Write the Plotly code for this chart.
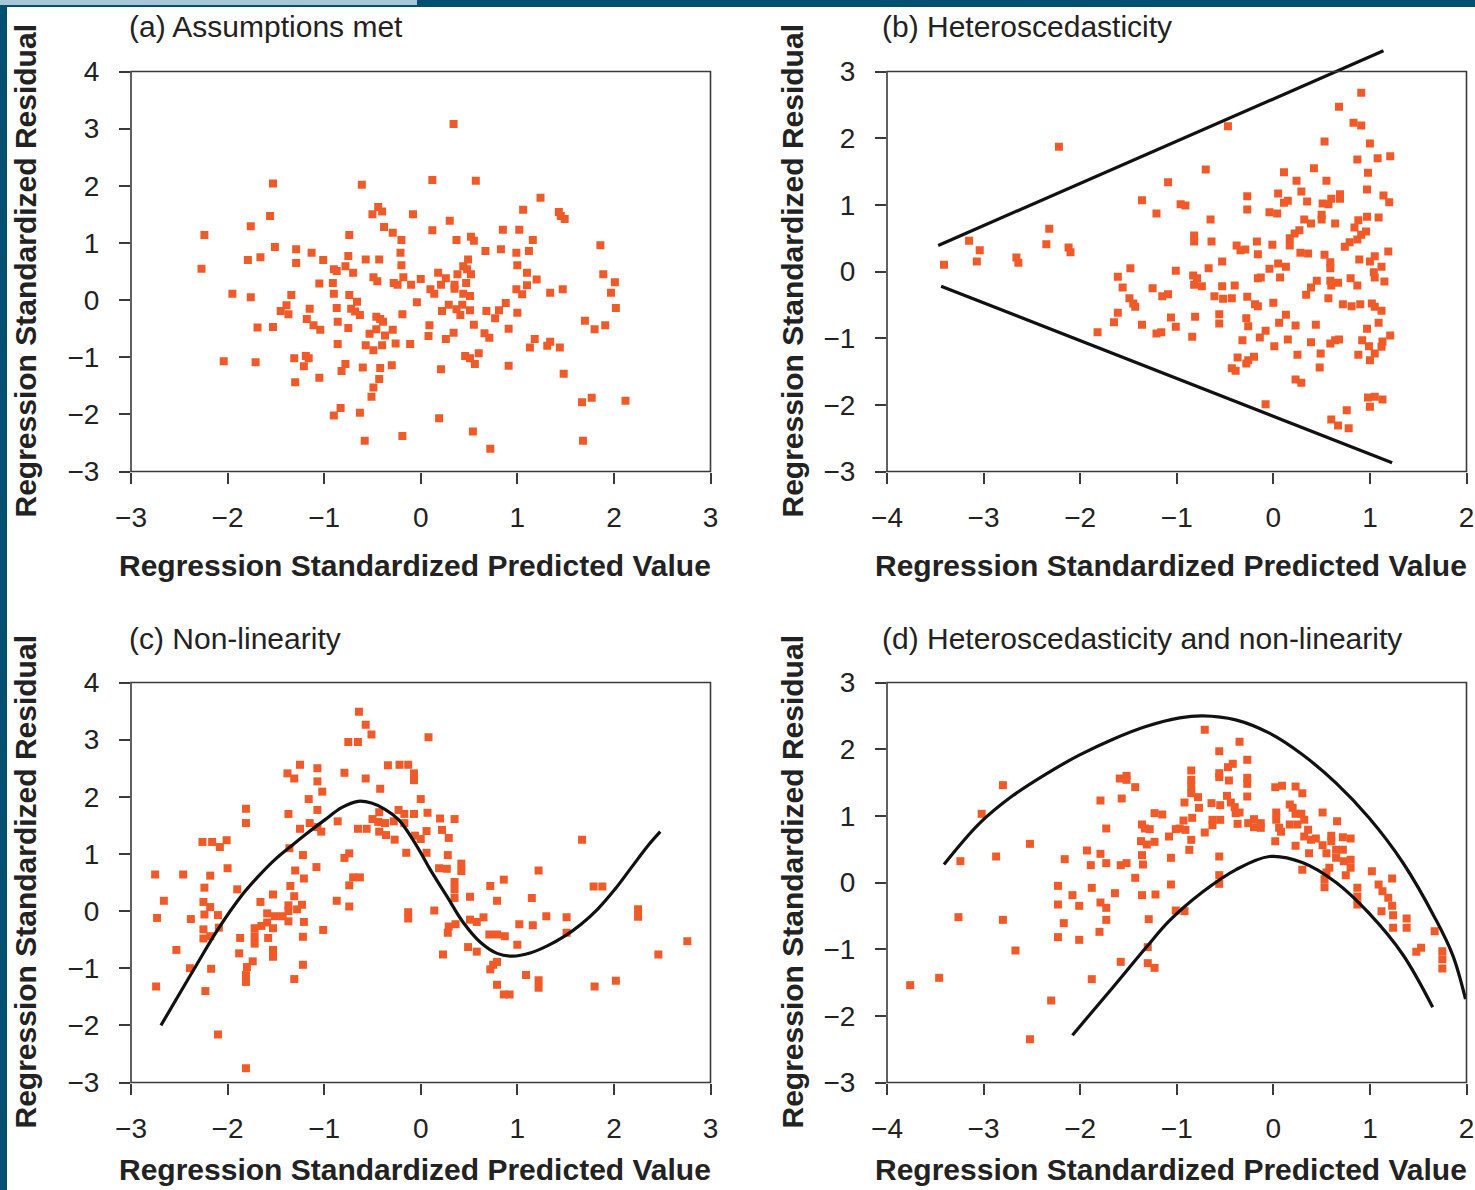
import plotly.graph_objects as go

# ---------------- data ----------------
# (a) Assumptions met
A_X = [-1.53, -0.61, -1.56, -0.44, -0.40, -0.50, -0.08, -1.76, -2.24, -0.38,
       -0.29, -0.74, -0.20, -1.51, -1.29, -1.13, -0.21, -1.79, -1.66, -1.29,
       -1.01, -0.75, -0.57, -0.43, -0.20, -2.27, -0.90, -0.87, -0.78, -0.70,
       -0.49, -0.45, -0.18, -0.28, -0.24, -0.10, 0.00, -1.05, -0.91, -1.95,
       -1.76, -1.34, -0.90, -0.74, -0.66, -0.04, -1.39, -1.45, -1.37, -1.15,
       -0.87, -0.72, -0.68, -0.63, -0.19, -0.46, -0.42, -0.39, -1.18, -1.11,
       -1.04, -0.86, -0.75, -1.69, -1.53, -0.46, -0.53, -0.37, -0.29, -0.86,
       -0.57, -0.49, -0.40, -0.26, -0.11, -2.04, -1.71, -1.31, -1.19, -1.16,
       -1.21, -0.78, -0.82, -0.60, -0.42, -0.30, -1.30, -1.05, -0.43, -0.49,
       -0.51, -0.83, -0.90, -0.63, -0.58, -0.19,
       0.34, 0.12, 0.57, 1.24, 1.06, 1.43, 1.45, 1.49, 0.30, 0.12,
       0.85, 1.02, 0.37, 0.52, 0.55, 1.16, 1.86, 0.67, 0.83, 0.99,
       1.12, 0.49, 0.44, 0.48, 0.52, 0.18, 0.26, 0.38, 0.21, 0.35,
       0.47, 0.35, 0.10, 0.14, 1.89, 2.01, 1.00, 1.10, 1.20, 1.10,
       0.99, 1.05, 1.34, 1.47, 1.97, 0.44, 0.51, 2.02, 0.88, 0.81,
       0.77, 1.00, 0.68, 0.51, 0.22, 0.29, 0.37, 0.43, 0.41, 0.55,
       0.09, 0.08, 0.26, 0.34, 0.66, 0.71, 0.91, 1.70, 1.80, 1.91,
       1.18, 1.13, 1.34, 1.31, 1.44, 0.46, 0.51, 0.56, 0.60, 0.21,
       0.91, 1.48, 1.67, 1.77, 2.12, 0.19, 0.54, 0.72, 1.68]
A_Y = [2.04, 2.02, 1.47, 1.63, 1.55, 1.50, 1.50, 1.29, 1.14, 1.28,
       1.18, 1.14, 1.05, 0.93, 0.89, 0.83, 0.83, 0.70, 0.75, 0.65,
       0.70, 0.77, 0.71, 0.71, 0.61, 0.55, 0.54, 0.51, 0.59, 0.48,
       0.40, 0.33, 0.40, 0.30, 0.27, 0.27, 0.37, 0.29, 0.30, 0.11,
       0.05, 0.09, 0.11, 0.09, -0.03, -0.04, -0.09, -0.19, -0.25, -0.15,
       -0.14, -0.15, -0.20, -0.26, -0.25, -0.29, -0.33, -0.38, -0.33, -0.44,
       -0.52, -0.38, -0.49, -0.48, -0.47, -0.51, -0.59, -0.62, -0.52, -0.77,
       -0.79, -0.88, -0.79, -0.76, -0.77, -1.07, -1.09, -1.02, -0.98, -1.02,
       -1.16, -1.12, -1.24, -1.18, -1.19, -1.14, -1.44, -1.36, -1.38, -1.53,
       -1.69, -1.89, -2.02, -1.97, -2.46, -2.38,
       3.08, 2.10, 2.09, 1.79, 1.58, 1.54, 1.47, 1.42, 1.39, 1.22,
       1.23, 1.23, 1.05, 1.11, 1.04, 1.05, 0.96, 0.86, 0.89, 0.83,
       0.86, 0.71, 0.59, 0.54, 0.45, 0.48, 0.38, 0.45, 0.27, 0.27,
       0.30, 0.20, 0.19, 0.11, 0.45, 0.31, 0.61, 0.48, 0.36, 0.26,
       0.19, 0.10, 0.13, 0.19, 0.13, 0.11, 0.07, -0.14, -0.05, -0.18,
       -0.32, -0.22, -0.19, -0.18, -0.19, -0.08, -0.16, -0.08, -0.26, -0.43,
       -0.44, -0.63, -0.68, -0.57, -0.58, -0.66, -0.50, -0.36, -0.51, -0.44,
       -0.68, -0.83, -0.73, -0.80, -0.83, -0.98, -1.02, -1.12, -0.93, -1.21,
       -1.15, -1.29, -1.79, -1.71, -1.76, -2.07, -2.30, -2.60, -2.46]

# (b) Heteroscedasticity
B_X = [-2.22, -1.09, -1.36, -1.21, -2.32, -3.15, -3.04, -3.07, -3.41, -2.66,
       -2.64, -2.35, -2.12, -2.10, -1.48, -1.61, -1.56, -1.25, -1.15, -1.09,
       -1.49, -1.45, -1.43, -1.61, -1.65, -1.36, -1.06, -1.82, -1.21, -1.16,
       0.91, 0.68, 0.83, 0.91, -0.47, 0.53, 1.00, 0.87, 1.08, 1.21,
       -0.70, 0.11, 0.42, 0.98, 0.24, 0.55, 0.29, 0.97, -0.27, 0.05,
       0.15, 0.11, 0.35, 0.51, 0.57, 0.60, 0.69, 0.69, 1.14, 1.20,
       -0.96, -0.91, -0.27, -0.04, 0.04, -0.65, 0.32, 0.39, 0.50, 0.50,
       0.64, 0.88, 0.97, 1.09, 0.84, 0.27, 0.22, 0.17, 0.17, 0.96,
       0.91, 0.87, -0.82, -0.82, -0.64, -0.17, -0.01, 0.79, 0.74, -0.38,
       -0.34, -0.29, -0.16, 0.28, 0.36, 0.53, 1.19, 1.05, 0.89, 1.00,
       -0.53, 0.59, 0.59, 0.05, 0.13, -0.04, 1.12, -1.01, -0.67, 1.04,
       1.05, 1.15, -0.83, -0.79, -0.82, -0.74, -0.53, -0.40, -0.16, 0.07,
       -0.13, 0.45, 0.59, 0.60, 0.67, 0.80, 0.87, 0.39, 0.34, 0.57,
       -0.61, -0.52, -0.43, -0.27, -0.19, -0.16, 0.00, 0.72, 0.81, 0.90,
       1.02, 1.05, 1.12, -1.01, -0.81, -0.56, -0.56, -0.84, -0.28, -0.26,
       0.13, 0.06, 0.23, 0.44, 1.09, 0.97, -0.08, -0.14, -0.32, 0.15,
       0.01, 0.39, 0.59, 0.64, 0.68, 0.92, 0.99, 1.13, 1.21, 1.12,
       1.05, 0.88, 1.00, 0.49, 0.25, -0.20, -0.37, -0.28, -0.26, -0.43,
       -0.39, 0.48, 0.23, 0.29, -0.08, 0.98, 1.05, 1.13, 1.00, 0.76,
       0.60, 0.67, 0.78]
B_Y = [1.87, 1.34, 1.07, 0.87, 0.64, 0.46, 0.32, 0.15, 0.10, 0.21,
       0.13, 0.41, 0.36, 0.29, 0.05, -0.08, -0.24, -0.25, -0.37, -0.34,
       -0.40, -0.48, -0.53, -0.62, -0.76, -0.80, -0.69, -0.91, -0.93, -0.91,
       2.68, 2.47, 2.23, 2.19, 2.18, 1.95, 1.92, 1.68, 1.70, 1.73,
       1.53, 1.49, 1.55, 1.48, 1.36, 1.36, 1.20, 1.23, 1.13, 1.17,
       1.06, 1.03, 1.05, 1.02, 1.01, 1.09, 1.16, 1.09, 1.14, 1.04,
       1.01, 0.99, 0.93, 0.89, 0.87, 0.78, 0.78, 0.72, 0.85, 0.78,
       0.72, 0.77, 0.82, 0.81, 0.66, 0.62, 0.57, 0.50, 0.39, 0.60,
       0.55, 0.48, 0.54, 0.45, 0.45, 0.45, 0.40, 0.44, 0.37, 0.39,
       0.32, 0.33, 0.26, 0.28, 0.27, 0.25, 0.30, 0.23, 0.18, 0.15,
       0.15, 0.14, 0.05, 0.12, 0.07, 0.04, 0.07, 0.01, 0.05, -0.01,
       -0.09, -0.15, -0.06, -0.10, -0.20, -0.22, -0.22, -0.21, -0.10, -0.09,
       -0.09, -0.14, -0.14, -0.21, -0.17, -0.10, -0.21, -0.24, -0.35, -0.40,
       -0.37, -0.41, -0.40, -0.38, -0.49, -0.52, -0.47, -0.49, -0.52, -0.49,
       -0.48, -0.53, -0.59, -0.83, -0.68, -0.64, -0.78, -0.98, -0.70, -0.82,
       -0.65, -0.77, -0.81, -0.80, -0.77, -0.86, -0.89, -0.99, -1.03, -1.02,
       -1.12, -1.06, -1.08, -1.03, -1.02, -1.03, -1.12, -1.05, -0.96, -1.13,
       -1.23, -1.25, -1.33, -1.23, -1.25, -1.28, -1.29, -1.38, -1.33, -1.45,
       -1.49, -1.44, -1.62, -1.67, -1.99, -1.89, -1.88, -1.92, -2.03, -2.08,
       -2.22, -2.31, -2.35]
B_UPPER_X = [-3.47, 1.14]
B_UPPER_Y = [0.39, 3.31]
B_LOWER_X = [-3.44, 1.23]
B_LOWER_Y = [-0.22, -2.87]

# (c) Non-linearity
C_X = [-0.64, -0.57, -0.51, -0.75, -0.65, -1.25, -1.07, -1.38, -1.31, -1.07,
       -0.79, -0.57, -0.34, -0.22, -0.13, -0.07, -0.07, -1.02, -0.42, -1.16,
       0.00, -1.81, -1.81, -1.37, -1.07, -0.86, -1.25, -1.15, -1.07, -1.03,
       -0.65, -0.56, -0.43, -0.50, -0.44, -0.37, -0.43, -0.36, -0.27, -0.23,
       -0.17, -0.07, -0.17, -0.28, -0.06, 0.00, -0.15, -2.26, -2.16, -2.08,
       -2.01, -1.36, -1.22, -0.79, -0.74, -2.75, -2.46, -2.18, -2.00, -1.08,
       -1.30, -1.21, -2.24, -1.90, -1.35, -0.70, -0.63, -0.74, -2.66, -2.25,
       -2.18, -2.24, -2.10, -2.73, -2.38, -1.66, -1.53, -1.31, -1.37, -1.28,
       -1.23, -1.37, -0.87, -0.74, -0.13, -0.13, -1.59, -1.51, -1.43, -1.37,
       -1.21, -1.59, -1.65, -1.53, -1.72, -1.72, -1.72, -1.58, -2.25, -2.18,
       -2.25, -2.09, -1.87, -1.22, -1.01, -2.53, -1.53, -1.53, -1.88, -1.74,
       -1.80, -2.39, -2.17, -1.22, -1.81, -1.81, -1.31, -2.74, -2.23, -2.10,
       -1.81,
       0.08, 0.07, 0.20, 0.35, 0.06, 0.22, 0.29, 0.06, 0.28, 0.19,
       0.27, 0.42, 0.42, 0.35, 0.35, 0.35, 0.51, 0.72, 0.86, 0.79,
       1.15, 1.22, 1.67, 1.79, 1.88, 0.14, 0.29, 0.36, 0.28, 0.51,
       0.58, 0.65, 0.71, 0.79, 0.87, 1.02, 1.16, 1.30, 1.51, 1.51,
       1.00, 0.23, 0.49, 0.58, 2.25, 2.25, 2.76, 2.46, 0.79, 0.75,
       0.72, 1.09, 1.22, 1.22, 0.79, 0.86, 0.92, 1.80, 2.02]
C_Y = [3.49, 3.26, 3.09, 2.96, 2.96, 2.56, 2.50, 2.41, 2.32, 2.27,
       2.42, 2.32, 2.55, 2.56, 2.56, 2.41, 2.29, 2.09, 2.14, 1.96,
       1.96, 1.79, 1.54, 1.70, 1.77, 1.57, 1.44, 1.54, 1.47, 1.39,
       1.44, 1.44, 1.73, 1.61, 1.56, 1.54, 1.39, 1.33, 1.25, 1.77,
       1.70, 1.70, 1.54, 1.57, 1.32, 1.26, 1.02, 1.21, 1.21, 1.12,
       1.24, 1.10, 0.98, 0.93, 1.01, 0.64, 0.64, 0.62, 0.75, 0.77,
       0.71, 0.57, 0.41, 0.38, 0.44, 0.59, 0.59, 0.45, 0.18, 0.16,
       0.07, -0.06, -0.07, -0.12, -0.14, 0.16, 0.29, 0.26, 0.10, 0.03,
       0.11, 0.00, 0.18, 0.08, -0.02, -0.13, -0.04, -0.09, -0.09, -0.18,
       -0.19, -0.20, -0.26, -0.30, -0.30, -0.44, -0.57, -0.47, -0.32, -0.44,
       -0.48, -0.29, -0.47, -0.45, -0.33, -0.68, -0.68, -0.80, -0.74, -0.88,
       -0.98, -1.00, -1.01, -0.94, -1.12, -1.24, -1.19, -1.32, -1.40, -2.16,
       -2.75,
       3.04, 1.72, 1.62, 1.61, 1.40, 1.42, 1.28, 1.02, 0.98, 0.75,
       0.74, 0.83, 0.70, 0.51, 0.38, 0.23, 0.25, 0.44, 0.55, 0.18,
       0.23, 0.71, 1.25, 0.43, 0.43, 0.01, -0.27, -0.23, -0.38, -0.15,
       -0.19, -0.11, -0.41, -0.41, -0.44, -0.23, -0.25, -0.09, -0.11, -0.38,
       -0.59, -0.76, -0.63, -0.71, 0.03, -0.10, -0.53, -0.76, -0.89, -0.94,
       -1.02, -1.12, -1.21, -1.34, -1.29, -1.46, -1.46, -1.32, -1.22]
C_CURVE_X = [-2.69, -2.37, -2.10, -1.86, -1.68, -1.51, -1.34, -1.17, -0.99, -0.82,
             -0.65, -0.51, -0.37, -0.23, -0.10, 0.00, 0.10, 0.27, 0.44, 0.62,
             0.79, 0.95, 1.14, 1.31, 1.49, 1.66, 1.83, 2.01, 2.18, 2.35, 2.48]
C_CURVE_Y = [-2.00, -1.08, -0.32, 0.26, 0.61, 0.90, 1.14, 1.37, 1.60, 1.81,
             1.92, 1.89, 1.78, 1.60, 1.30, 1.02, 0.72, 0.26, -0.20, -0.55,
             -0.74, -0.79, -0.73, -0.61, -0.44, -0.23, 0.03, 0.38, 0.76, 1.14, 1.39]

# (d) Heteroscedasticity and non-linearity
D_X = [-2.80, -3.02, -2.52, -2.87, -3.24, -3.26, -2.80, -2.67, -3.46, -3.76,
       -2.30, -2.52, -1.88, -1.58, -1.30, -1.23, -1.30, -2.23, -2.01, -1.80,
       -2.17, -2.23, -2.23, -2.08, -2.01, -1.88, -1.79, -1.73, -1.73, -1.64,
       -1.29, -1.36, -1.22, -1.06, -1.01, -1.43, -2.16, -1.93, -1.89, -1.79,
       -1.73, -1.58, -1.52, -1.36, -1.35, -1.06, -1.73, -1.79, -1.57, -1.59,
       -1.52, -1.52, -1.43, -1.23, -1.15, -1.36, -1.33, -1.28, -1.37, -1.31,
       -1.23, -1.08, -1.01,
       -0.71, -0.35, -0.56, -0.27, -0.85, -0.42, -0.47, -0.56, -0.56, -0.46,
       -0.27, -0.27, -0.85, -0.85, -0.85, 0.02, 0.09, 0.23, 0.30, -0.78,
       -0.92, -0.64, -0.55, -0.48, -0.44, -0.27, -0.77, -0.40, -0.39, -0.35,
       -0.37, -0.84, -0.93, -0.63, -0.55, -0.63, -0.97, -0.91, -0.71, -0.85,
       -0.87, -0.26, -0.20, -0.20, -0.13, -0.13, 0.03, 0.03, 0.06, 0.08,
       0.17, 0.20, 0.23, 0.17, 0.25, 0.29, 0.32, 0.36, 0.32, 0.39,
       0.44, 0.51, 0.66, 0.60, 0.60, 0.72, 0.80, 0.51, 0.55, 0.65,
       0.72, 0.65, 0.73, 0.80, 0.80, 0.75, 0.58, 0.55, 0.53, 0.53,
       0.37, 0.23, 0.30, 0.02, -0.56, -0.56, -0.56, -0.92, 1.02, 1.23,
       1.09, 1.13, 1.19, 0.87, 0.87, 0.87, 1.12, 1.23, 1.24, 1.24,
       1.38, 1.38, 1.67, 1.48, 1.53, 1.75, 1.75, 1.75]
D_Y = [1.46, 1.03, 0.58, 0.39, 0.32, -0.52, -0.56, -1.02, -1.43, -1.54,
       -1.77, -2.35, -1.45, -1.19, -1.21, -1.28, -0.97, -0.82, -0.86, -0.74,
       -0.61, -0.33, -0.05, -0.19, -0.35, -0.08, -0.30, -0.38, -0.56, -0.16,
       -0.55, -0.19, -0.18, -0.03, -0.42, 0.07, 0.35, 0.48, 0.26, 0.43,
       0.29, 0.26, 0.29, 0.41, 0.27, 0.37, 0.81, 1.23, 1.26, 1.56,
       1.60, 1.54, 1.43, 1.04, 1.02, 0.87, 0.81, 0.80, 0.62, 0.57,
       0.61, 0.69, 0.80,
       2.29, 2.11, 1.97, 1.84, 1.68, 1.78, 1.73, 1.64, 1.58, 1.53,
       1.57, 1.48, 1.54, 1.44, 1.34, 1.43, 1.45, 1.44, 1.34, 1.28,
       1.20, 1.19, 1.16, 1.30, 1.20, 1.29, 1.12, 1.13, 1.04, 1.05,
       0.88, 0.97, 0.93, 0.94, 0.94, 0.86, 0.81, 0.79, 0.75, 0.64,
       0.49, 0.89, 0.95, 0.83, 0.89, 0.82, 1.05, 0.94, 0.82, 0.76,
       1.17, 1.12, 1.03, 0.87, 0.87, 1.03, 0.94, 0.79, 0.69, 0.64,
       0.66, 1.05, 0.92, 0.70, 0.62, 0.68, 0.66, 0.56, 0.44, 0.49,
       0.49, 0.37, 0.32, 0.34, 0.22, 0.11, 0.22, 0.15, 0.05, -0.07,
       0.44, 0.55, 0.19, 0.62, 0.39, 0.11, -0.02, -0.43, 0.17, 0.06,
       -0.03, -0.13, -0.23, -0.08, -0.21, -0.33, -0.43, -0.35, -0.49, -0.68,
       -0.54, -0.68, -0.73, -1.04, -0.98, -1.03, -1.15, -1.29]
D_UPPER_X = [-3.41, -3.04, -2.70, -2.35, -2.01, -1.66, -1.32, -0.97, -0.73,
             -0.39, -0.04, 0.30, 0.65, 0.99, 1.34, 1.68, 1.86, 1.99]
D_UPPER_Y = [0.27, 0.89, 1.30, 1.63, 1.91, 2.15, 2.34, 2.47, 2.50,
             2.44, 2.24, 1.92, 1.49, 0.97, 0.30, -0.55, -1.10, -1.75]
D_LOWER_X = [-2.08, -1.66, -1.32, -1.08, -0.73, -0.39, -0.04, 0.30, 0.65, 0.99, 1.34, 1.65]
D_LOWER_Y = [-2.29, -1.57, -0.98, -0.58, -0.14, 0.19, 0.39, 0.30, 0.00, -0.46, -1.08, -1.87]

TITLES = ["(a) Assumptions met", "(b) Heteroscedasticity",
          "(c) Non-linearity", "(d) Heteroscedasticity and non-linearity"]
X_TITLE = "Regression Standardized Predicted Value"
Y_TITLE = "Regression Standardized Residual"
X_TICKS_AC = [-3, -2, -1, 0, 1, 2, 3]
X_TICKS_BD = [-4, -3, -2, -1, 0, 1, 2]
Y_TICKS_AC = [-3, -2, -1, 0, 1, 2, 3, 4]
Y_TICKS_BD = [-3, -2, -1, 0, 1, 2, 3]

for xs, ys in [(A_X, A_Y), (B_X, B_Y), (C_X, C_Y), (D_X, D_Y),
               (C_CURVE_X, C_CURVE_Y), (D_UPPER_X, D_UPPER_Y), (D_LOWER_X, D_LOWER_Y)]:
    assert len(xs) == len(ys), (len(xs), len(ys))

# ---------------- styling / layout ----------------
W, H = 1475, 1190
MARKER = "#F05A28"
FRAME = "#3a3a3a"
TEXT = "#222222"
FONT = "Liberation Sans, Arial, Helvetica, sans-serif"

PANELS = [
    dict(L=131, R=710.5, T=71.5, B=471.5, xr=(-3, 3), yr=(-3, 4), ytop=4.0,
         xt=X_TICKS_AC, yt=Y_TICKS_AC, pts=(A_X, A_Y), lines=[], spline=False,
         title=TITLES[0], tx=127, ty=26, xtx=415, xty=565, ytx=25),
    dict(L=887, R=1466.5, T=71.5, B=471.5, xr=(-4, 2), yr=(-3, 3), ytop=3.45,
         xt=X_TICKS_BD, yt=Y_TICKS_BD, pts=(B_X, B_Y),
         lines=[(B_UPPER_X, B_UPPER_Y), (B_LOWER_X, B_LOWER_Y)], spline=False,
         title=TITLES[1], tx=880, ty=26, xtx=1171, xty=565, ytx=792),
    dict(L=131, R=710.5, T=682.5, B=1082.5, xr=(-3, 3), yr=(-3, 4), ytop=4.0,
         xt=X_TICKS_AC, yt=Y_TICKS_AC, pts=(C_X, C_Y),
         lines=[(C_CURVE_X, C_CURVE_Y)], spline=True,
         title=TITLES[2], tx=127, ty=638, xtx=415, xty=1169, ytx=25),
    dict(L=887, R=1466.5, T=682.5, B=1082.5, xr=(-4, 2), yr=(-3, 3), ytop=3.0,
         xt=X_TICKS_BD, yt=Y_TICKS_BD, pts=(D_X, D_Y),
         lines=[(D_UPPER_X, D_UPPER_Y), (D_LOWER_X, D_LOWER_Y)], spline=True,
         title=TITLES[3], tx=880, ty=638, xtx=1171, xty=1169, ytx=792),
]

fig = go.Figure()
layout = dict(
    autosize=True,
    margin=dict(l=0, r=0, t=0, b=0, pad=0, autoexpand=False),
    paper_bgcolor="white", plot_bgcolor="white",
    showlegend=False,
    font=dict(family=FONT, color=TEXT),
)
shapes = []
annotations = []

tickfont = dict(family=FONT, size=28, color=TEXT)

for i, p in enumerate(PANELS, start=1):
    sfx = "" if i == 1 else str(i)
    ppu = (p["B"] - p["T"]) / (p["yr"][1] - p["yr"][0])
    t_ext = p["T"] - (p["ytop"] - p["yr"][1]) * ppu
    layout["xaxis" + sfx] = dict(
        domain=[p["L"] / W, p["R"] / W], range=list(p["xr"]), anchor="y" + sfx,
        tickmode="array", tickvals=p["xt"], ticks="outside", ticklen=11,
        tickwidth=1.5, tickcolor=FRAME, showline=False, showgrid=False,
        zeroline=False, tickfont=tickfont, ticklabelstandoff=10, fixedrange=True)
    layout["yaxis" + sfx] = dict(
        domain=[1 - p["B"] / H, 1 - t_ext / H], range=[p["yr"][0], p["ytop"]],
        anchor="x" + sfx, tickmode="array", tickvals=p["yt"], ticks="outside",
        ticklen=11, tickwidth=1.5, tickcolor=FRAME, showline=False,
        showgrid=False, zeroline=False, tickfont=tickfont,
        ticklabelstandoff=14, fixedrange=True)

    xs, ys = p["pts"]
    fig.add_trace(go.Scatter(
        x=xs, y=ys, mode="markers", xaxis="x" + sfx, yaxis="y" + sfx,
        marker=dict(symbol="square", size=8, color=MARKER, line=dict(width=0)),
        hoverinfo="skip"))
    for lx, ly in p["lines"]:
        fig.add_trace(go.Scatter(
            x=lx, y=ly, mode="lines", xaxis="x" + sfx, yaxis="y" + sfx,
            line=dict(color="#111111", width=3.2,
                      shape="spline" if p["spline"] else "linear", smoothing=1.0),
            hoverinfo="skip"))

    # frame box
    shapes.append(dict(type="rect", xref="paper", yref="paper",
                       x0=p["L"] / W, x1=p["R"] / W,
                       y0=1 - p["B"] / H, y1=1 - p["T"] / H,
                       line=dict(color=FRAME, width=1.6),
                       fillcolor="rgba(0,0,0,0)", layer="above"))
    # panel title
    annotations.append(dict(text=p["title"], xref="paper", yref="paper",
                            x=p["tx"] / W, y=1 - p["ty"] / H,
                            xanchor="left", yanchor="middle", showarrow=False,
                            font=dict(family=FONT, size=30, color=TEXT)))
    # x-axis title
    annotations.append(dict(text="<b>" + X_TITLE + "</b>", xref="paper", yref="paper",
                            x=p["xtx"] / W, y=1 - p["xty"] / H,
                            xanchor="center", yanchor="middle", showarrow=False,
                            font=dict(family=FONT, size=30, color=TEXT)))
    # y-axis title
    annotations.append(dict(text="<b>" + Y_TITLE + "</b>", xref="paper", yref="paper",
                            x=p["ytx"] / W, y=1 - ((p["T"] + p["B"]) / 2) / H,
                            xanchor="center", yanchor="middle", textangle=-90,
                            showarrow=False,
                            font=dict(family=FONT, size=30, color=TEXT)))

# page border strips
DARK = "#02506F"
LIGHT = "#A9C6D8"
shapes.append(dict(type="rect", xref="paper", yref="paper", x0=0, x1=7 / W, y0=0, y1=1,
                   fillcolor=DARK, line=dict(width=0), layer="above"))
shapes.append(dict(type="rect", xref="paper", yref="paper", x0=0, x1=1, y0=1 - 7 / H, y1=1,
                   fillcolor=DARK, line=dict(width=0), layer="above"))
shapes.append(dict(type="rect", xref="paper", yref="paper", x0=0, x1=417 / W, y0=1 - 5 / H, y1=1,
                   fillcolor=LIGHT, line=dict(width=0), layer="above"))

layout["shapes"] = shapes
layout["annotations"] = annotations
fig.update_layout(**layout)

# the graph div is pinned to the window origin and fills the whole window
POST = ("document.documentElement.style.margin='0';"
        "document.body.style.margin='0';"
        "document.documentElement.style.overflow='hidden';"
        "document.body.style.overflow='hidden';")
fig.write_html("out.html",
               config={"displayModeBar": False, "responsive": True},
               default_width="100vw",
               default_height="100vh; position:fixed; left:0; top:0; margin:0",
               post_script=POST)
